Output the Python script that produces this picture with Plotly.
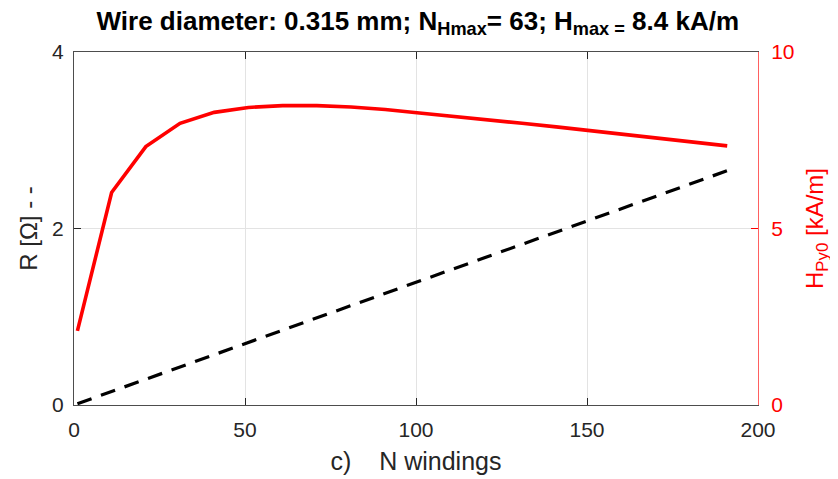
import plotly.graph_objects as go

n_windings = [1, 11, 21, 31, 41, 51, 61, 71, 81, 91, 101, 111, 121, 131, 141, 151, 161, 171, 181, 191]
h_py0 = [2.10, 6.02, 7.32, 7.98, 8.29, 8.43, 8.48, 8.48, 8.44, 8.37, 8.27, 8.18, 8.08, 7.98, 7.88, 7.77, 7.66, 7.56, 7.45, 7.34]
r_ohm = [0.014, 0.153, 0.292, 0.431, 0.570, 0.709, 0.848, 0.987, 1.126, 1.265, 1.404, 1.543, 1.682, 1.821, 1.960, 2.099, 2.238, 2.377, 2.516, 2.655]

x_ticks = [0, 50, 100, 150, 200]
r_ticks = [0, 2, 4]
h_ticks = [0, 5, 10]

FONT = "Liberation Sans, Arial, sans-serif"
AX = "#262626"
RED = "#ff0000"

fig = go.Figure()
fig.add_trace(go.Scatter(x=n_windings, y=r_ohm, mode="lines",
                         line=dict(color="black", width=3.2, dash="15px,10px"),
                         yaxis="y", showlegend=False))
fig.add_trace(go.Scatter(x=n_windings, y=h_py0, mode="lines",
                         line=dict(color=RED, width=3.6),
                         yaxis="y2", showlegend=False))

fig.update_layout(
    width=838, height=479,
    paper_bgcolor="white", plot_bgcolor="white",
    margin=dict(l=66, r=88, t=44, b=82, autoexpand=False),
    font=dict(family=FONT, size=21, color=AX),
    title=dict(text="<b>Wire diameter: 0.315 mm; N<sub>Hmax</sub>= 63; H<sub>max =</sub> 8.4 kA/m</b>",
               x=0.489, xanchor="center", y=0.973, yanchor="middle", automargin=False,
               font=dict(family=FONT, size=26, color="black")),
    xaxis=dict(range=[0, 200], tickvals=x_ticks, ticks="inside", ticklen=7,
               tickcolor=AX, showline=True, linecolor="#4d4d4d", linewidth=1, mirror="ticks",
               showgrid=True, gridcolor="#e3e3e3", gridwidth=1, zeroline=False,
               automargin=False, ticklabelstandoff=6,
               tickfont=dict(size=21, color=AX),
               title=dict(text="c)    N windings", font=dict(size=25, color=AX), standoff=12)),
    yaxis=dict(range=[0, 4], tickvals=r_ticks, ticks="inside", ticklen=7,
               tickcolor=AX, showline=True, linecolor="#4d4d4d", linewidth=1,
               showgrid=True, gridcolor="#e3e3e3", zeroline=False,
               automargin=False, ticklabelstandoff=5,
               tickfont=dict(size=21, color=AX),
               title=dict(text="R [Ω] - -", font=dict(size=24, color=AX), standoff=7)),
    yaxis2=dict(range=[0, 10], tickvals=h_ticks, ticks="inside", ticklen=7,
                tickcolor=RED, showline=True, linecolor="#ff6060", linewidth=1,
                overlaying="y", side="right", showgrid=False, zeroline=False,
                automargin=False, ticklabelstandoff=8,
                tickfont=dict(size=21, color=RED),
                title=dict(text="H<sub>Py0</sub> [kA/m]", font=dict(size=24, color=RED), standoff=12)),
)

fig.write_html("out.html")
